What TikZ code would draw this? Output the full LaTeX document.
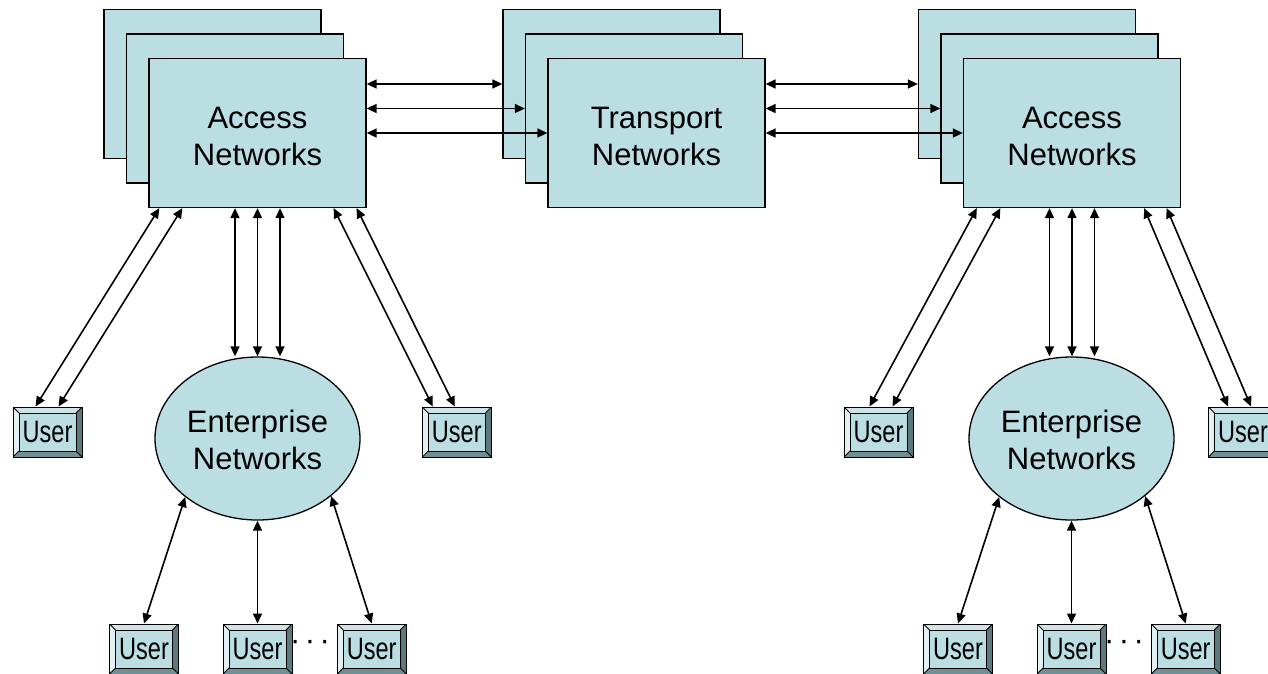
\documentclass[tikz,border=0pt]{standalone}
\usepackage{fontspec}
\setmainfont{Liberation Sans}
\usepackage{graphicx}
\usetikzlibrary{arrows.meta,calc,shapes.geometric}
\definecolor{boxfill}{RGB}{187,222,227}
\definecolor{bevtop}{RGB}{207,228,231}
\definecolor{bevleft}{RGB}{226,241,243}
\definecolor{bevright}{RGB}{92,122,126}
\definecolor{bevbottom}{RGB}{114,144,148}
\newcommand\netfont{\fontsize{31pt}{37pt}\selectfont}
\newcommand\usrtxt{\scalebox{0.76}[1]{User}}
\newcommand\topstrut[1]{\rule{0pt}{#1}}
\begin{document}
\begin{tikzpicture}[x=1pt,y=-1pt,
  netbox/.style={rectangle, draw=black, line width=1.3pt, fill=boxfill,
    minimum width=217pt, minimum height=149pt, inner sep=0pt, align=center, font=\netfont},
  entnet/.style={ellipse, draw=black, line width=1.3pt, fill=boxfill,
    minimum width=205pt, minimum height=163pt, inner sep=0pt, align=center, font=\netfont},
  userbox/.style={rectangle, draw=black, line width=1pt, fill=boxfill,
    minimum width=69pt, minimum height=50pt, inner sep=0pt, font=\netfont,
    path picture={
      \coordinate (SW) at (path picture bounding box.south west);
      \coordinate (SE) at (path picture bounding box.south east);
      \coordinate (NE) at (path picture bounding box.north east);
      \coordinate (NW) at (path picture bounding box.north west);
      \coordinate (sw) at ($(SW)+(6pt,6pt)$);
      \coordinate (se) at ($(SE)+(-6pt,6pt)$);
      \coordinate (ne) at ($(NE)+(-6pt,-6pt)$);
      \coordinate (nw) at ($(NW)+(6pt,-6pt)$);
      \fill[bevtop] (NW) -- (NE) -- (ne) -- (nw) -- cycle;
      \fill[bevleft] (NW) -- (nw) -- (sw) -- (SW) -- cycle;
      \fill[bevright] (NE) -- (SE) -- (se) -- (ne) -- cycle;
      \fill[bevbottom] (SW) -- (SE) -- (se) -- (sw) -- cycle;
      \draw[line width=0.8pt] (nw) rectangle (se);
      \draw[line width=0.8pt] (NW) -- (nw) (NE) -- (ne) (SE) -- (se) (SW) -- (sw);
    }},
  biarrow/.style={{Triangle[length=10pt,width=9pt]}-{Triangle[length=10pt,width=9pt]}, line width=1.6pt},
  dotsnode/.style={inner sep=0pt, font=\netfont},
]
\useasboundingbox (0,0) rectangle (1268,673);
\clip (0,0) rectangle (1268,673);

% stacks
\node[netbox] (accLb) at (212.5,84) {};
\node[netbox] (accLm) at (235,108.5) {};
\node[netbox] (accLf) at (257.5,133) {\topstrut{29pt}Access\\Networks};
\node[netbox] (trB) at (611.5,84) {};
\node[netbox] (trM) at (634,108.5) {};
\node[netbox] (trF) at (656.5,133) {\topstrut{29pt}Transport\\Networks};
\node[netbox] (accRb) at (1027,84) {};
\node[netbox] (accRm) at (1049.5,108.5) {};
\node[netbox] (accRf) at (1072,133) {\topstrut{29pt}Access\\Networks};

% enterprise
\node[entnet] (entL) at (257.5,438.5) {\topstrut{26pt}Enterprise\\Networks};
\node[entnet] (entR) at (1071.5,438.5) {\topstrut{26pt}Enterprise\\Networks};

% users
\node[userbox] (uL1) at (47.5,432) {\usrtxt};
\node[userbox] (uL2) at (456.8,432) {\usrtxt};
\node[userbox] (uR1) at (878.5,432) {\usrtxt};
\node[userbox] (uR2) at (1243,432) {\usrtxt};
\node[userbox] (uLb1) at (144,649) {\usrtxt};
\node[userbox] (uLb2) at (257.5,649) {\usrtxt};
\node[userbox] (uLb3) at (371.7,649) {\usrtxt};
\node[userbox] (uRb1) at (958,649) {\usrtxt};
\node[userbox] (uRb2) at (1071.5,649) {\usrtxt};
\node[userbox] (uRb3) at (1185.7,649) {\usrtxt};
\node[dotsnode] (dotsL) at (310,645) {\textperiodcentered\kern4.5pt\textperiodcentered\kern4.5pt\textperiodcentered};
\node[dotsnode] (dotsR) at (1124,645) {\textperiodcentered\kern4.5pt\textperiodcentered\kern4.5pt\textperiodcentered};

% horizontal links
\draw[biarrow] (accLf.east |- trB.west) -- (trB.west);
\draw[biarrow] (accLf.east |- trM.west) -- (trM.west);
\draw[biarrow] (accLf.east) -- (trF.west);
\draw[biarrow] (trF.east |- accRb.west) -- (accRb.west);
\draw[biarrow] (trF.east |- accRm.west) -- (accRm.west);
\draw[biarrow] (trF.east) -- (accRf.west);

% verticals
\foreach \dx in {-22.5,0,22.5} {
  \draw[biarrow] ([xshift=\dx pt]accLf.south) -- ([xshift=\dx pt]accLf.south |- entL.north);
  \draw[biarrow] ([xshift=\dx pt]accRf.south) -- ([xshift=\dx pt]accRf.south |- entR.north);
}

% diagonals to users
\draw[biarrow] ([xshift=23pt]uL1.north west) -- ([xshift=11pt]accLf.south west);
\draw[biarrow] ([xshift=46pt]uL1.north west) -- ([xshift=34pt]accLf.south west);
\draw[biarrow] ([xshift=11pt]uL2.north west) -- ([xshift=-33pt]accLf.south east);
\draw[biarrow] ([xshift=33pt]uL2.north west) -- ([xshift=-10pt]accLf.south east);
\draw[biarrow] ([xshift=26pt]uR1.north west) -- ([xshift=14pt]accRf.south west);
\draw[biarrow] ([xshift=49pt]uR1.north west) -- ([xshift=37.5pt]accRf.south west);
\draw[biarrow] ([xshift=20pt]uR2.north west) -- ([xshift=-37pt]accRf.south east);
\draw[biarrow] ([xshift=43pt]uR2.north west) -- ([xshift=-14.5pt]accRf.south east);

% bottom users
\draw[biarrow] (uLb1.north) -- (entL.-141.5);
\draw[biarrow] (uLb2.north) -- (entL.south);
\draw[biarrow] (uLb3.north) -- (entL.-38.5);
\draw[biarrow] (uRb1.north) -- (entR.-141.5);
\draw[biarrow] (uRb2.north) -- (entR.south);
\draw[biarrow] (uRb3.north) -- (entR.-38.5);
\end{tikzpicture}
\end{document}
